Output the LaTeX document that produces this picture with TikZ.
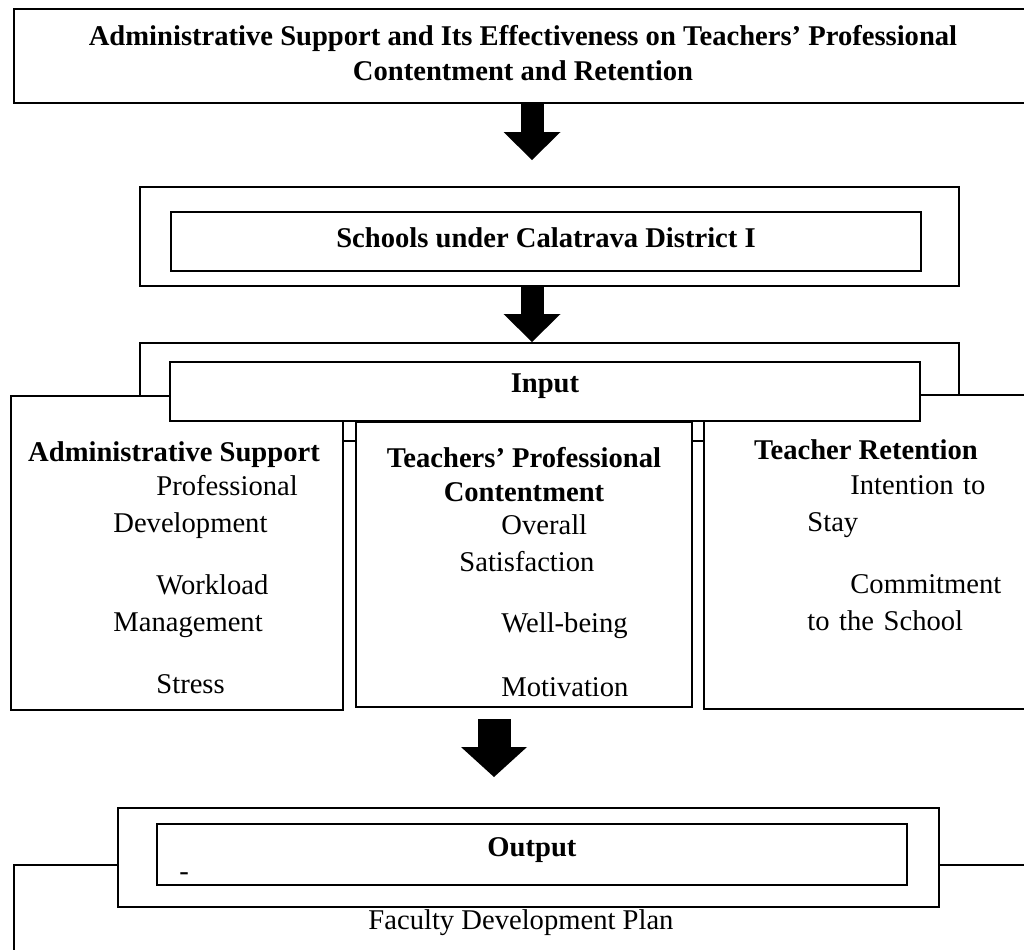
\documentclass[tikz,border=0pt]{standalone}
\usepackage{fontspec}
\setmainfont{Liberation Serif}
\usetikzlibrary{positioning, arrows.meta}
\newcommand{\diagfont}{\fontsize{14.3pt}{18.5pt}\selectfont}
\tikzstyle{frame} = [rectangle, draw, line width=1pt, fill=white, inner sep=0pt]
\tikzstyle{headtext} = [font=\diagfont\bfseries, align=center, inner sep=0pt, anchor=base]
\tikzstyle{itemtext} = [font=\diagfont, align=left, text width=150pt, inner sep=0pt, anchor=base west]
\tikzstyle{arrow} = [line width=11.5pt, -{Triangle[length=14pt, width=28.5pt, line width=0pt]}]
\tikzstyle{bigarrow} = [line width=16.5pt, -{Triangle[length=15pt, width=33pt, line width=0pt]}]

\begin{document}
\begin{tikzpicture}[x=0.5pt, y=-0.5pt, node distance=90pt]
    \tikzstyle{every node}=[font=\diagfont]
    \path[use as bounding box, clip] (0,0) rectangle (1024,949);
    \node (Title) [frame, minimum width=509pt, minimum height=47pt, align=center, text depth=3pt, font=\fontsize{14.3pt}{17.5pt}\selectfont\bfseries] at (523,56)
        {Administrative Support and Its Effectiveness on Teachers’ Professional\\Contentment and Retention};
    \node (SchoolsOuter) [frame, node distance=90.25pt, below of=Title, xshift=13.25pt, minimum width=409.5pt, minimum height=49.5pt] {};
    \node (SchoolsInner) [frame, minimum width=375pt, minimum height=29.5pt, text depth=4.4pt, font=\diagfont\bfseries] at ([xshift=-1.75pt, yshift=-2.5pt]SchoolsOuter) {Schools under Calatrava District I};
    \node (InputOuter) [frame, node distance=77.75pt, below of=SchoolsOuter, minimum width=409.5pt, minimum height=49pt] {};
    \node (Contentment) [frame, node distance=86.25pt, below of=InputOuter, xshift=-12.75pt, minimum width=168pt, minimum height=142.5pt] {};
    \node (AdminSupport) [frame, node distance=173.5pt, left of=Contentment, yshift=5.75pt, minimum width=166pt, minimum height=157pt] {};
    \node (Retention) [frame, node distance=172pt, right of=Contentment, yshift=6.25pt, minimum width=164pt, minimum height=157pt] {};
    \node (InputInner) [frame, minimum width=375pt, minimum height=29.5pt, text depth=7.9pt, font=\diagfont\bfseries] at ([xshift=-2.25pt, yshift=0.25pt]InputOuter) {Input};

    % column texts
    \node (AdminHead) [headtext] at ([xshift=-1.5pt, yshift=-33pt]AdminSupport.north) {Administrative Support};
    \node (AdminItems) [itemtext] at ([xshift=51.5pt, yshift=-50pt]AdminSupport.north west)
        {\hspace*{21.5pt}Professional\\Development\\[12.5pt]\hspace*{21.5pt}Workload\\Management\\[12.5pt]\hspace*{21.5pt}Stress};
    \node (ContentHead) [headtext, font=\fontsize{14.3pt}{17pt}\selectfont\bfseries] at ([yshift=-40pt]Contentment.north) {Teachers’ Professional\\Contentment};
    \node (ContentItems) [itemtext] at ([xshift=52pt, yshift=-56.5pt]Contentment.north west)
        {\hspace*{21pt}Overall\\Satisfaction\\[12pt]\hspace*{21pt}Well-being\\[13.5pt]\hspace*{21pt}Motivation};
    \node (RetentionHead) [headtext] at ([xshift=-1pt, yshift=-32.5pt]Retention.north) {Teacher Retention};
    \node (RetentionItems) [itemtext] at ([xshift=52pt, yshift=-50pt]Retention.north west)
        {\hspace*{21.5pt}Intention to\\Stay\\[12.5pt]\hspace*{21.5pt}Commitment\\to the School};

    % output part
    \node (PlanFrame) [frame, node distance=194pt, below of=Contentment, xshift=4pt, minimum width=518pt, minimum height=87.5pt] {};
    \node (OutputOuter) [frame, node distance=146.5pt, below of=Contentment, xshift=2.25pt, minimum width=410.5pt, minimum height=49.5pt] {};
    \node (OutputInner) [frame, minimum width=375pt, minimum height=30.5pt, text depth=7.4pt, font=\diagfont\bfseries] at ([xshift=1.75pt, yshift=1.5pt]OutputOuter) {Output};
    \node (OutputDash) [anchor=base west, inner sep=0pt] at ([xshift=11.5pt, yshift=3pt]OutputInner.south west) {-};
    \node (Plan) [anchor=base, inner sep=0pt] at ([xshift=-3.75pt, yshift=-10.5pt]OutputOuter.south) {Faculty Development Plan};

    \draw [arrow, shorten >=13pt] ([xshift=4.5pt]Title.south) -- ([xshift=-8.75pt]SchoolsOuter.north);
    \draw [arrow] ([xshift=-8.75pt]SchoolsOuter.south) -- ([xshift=-8.75pt]InputOuter.north);
    \draw [bigarrow, shorten <=5.5pt, shorten >=15pt] ([xshift=-15pt]Contentment.south) -- ([xshift=-17.25pt]OutputOuter.north);
\end{tikzpicture}
\end{document}
